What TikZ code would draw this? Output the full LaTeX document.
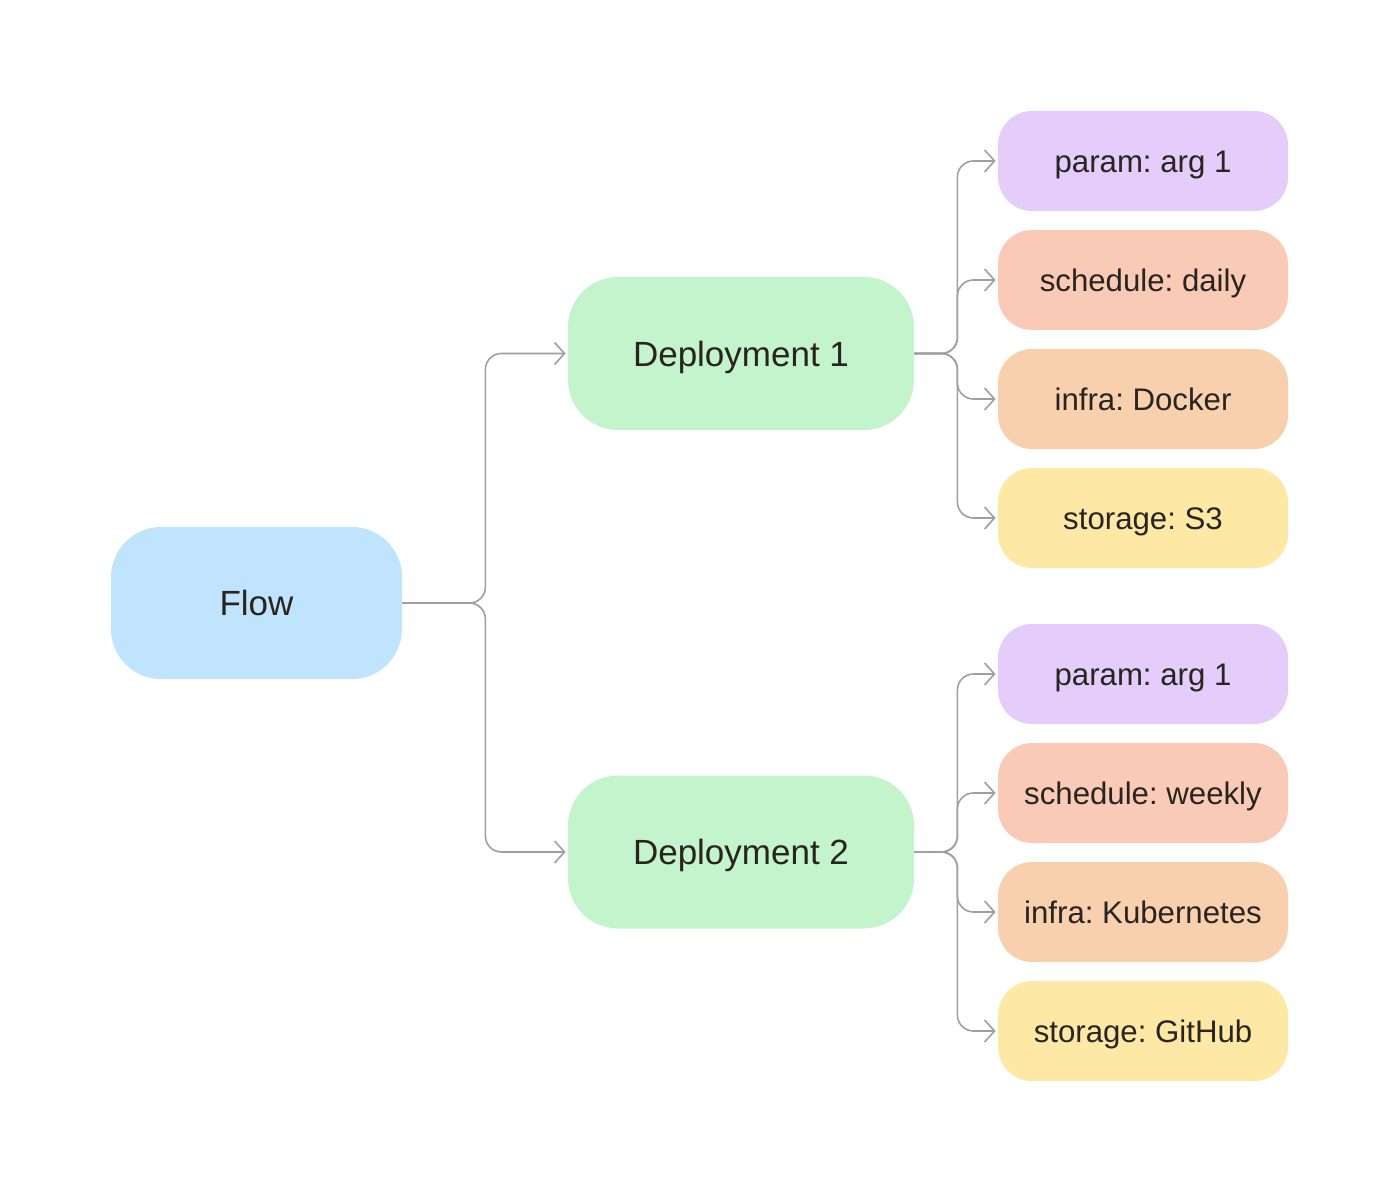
\documentclass[tikz,border=0pt]{standalone}
\usepackage{fontspec}
\setmainfont{Liberation Sans}
\usepackage{tikz}
\usetikzlibrary{arrows.meta,shapes}
\frenchspacing
\definecolor{flowblue}{HTML}{C0E4FD}
\definecolor{depgreen}{HTML}{C4F4CC}
\definecolor{parampurple}{HTML}{E4CDFB}
\definecolor{schedsalmon}{HTML}{F9CBB6}
\definecolor{infraorange}{HTML}{F9D0AE}
\definecolor{storeyellow}{HTML}{FDE8A6}
\definecolor{linkgray}{HTML}{A19E9E}
\definecolor{inkdark}{HTML}{2A2420}
\tikzstyle{box}=[rectangle,rounded corners=25pt,inner sep=0pt,text=inkdark,text height=12.5pt,text depth=0pt,font=\fontsize{17.5}{21}\selectfont]
\tikzstyle{mainbox}=[box,fill=flowblue,minimum width=145.5pt,minimum height=76pt]
\tikzstyle{depbox}=[box,fill=depgreen,minimum width=173pt,minimum height=76.5pt]
\tikzstyle{itembox}=[box,rounded corners=17pt,minimum width=145pt,minimum height=50pt,text height=11.2pt,font=\fontsize{15.6}{19}\selectfont]
\tikzstyle{link} = [draw,line width=0.8pt,linkgray,rounded corners=8pt,shorten >=1pt,-{Straight Barb[length=5pt,width=11pt]}]

\begin{document}
\begin{tikzpicture}[x=0.5pt,y=-0.5pt]
    \path[use as bounding box] (0,0) rectangle (1400,1192);
    % First we draw the flow and its deployments
    \node[mainbox] (Flow) at (256.5,603) {Flow};
    \node[depbox] (Dep_1) at (741,353.5) {Deployment 1};
    \node[depbox] (Dep_2) at (741,852) {Deployment 2};
    % Then the settings of each deployment
    \foreach \pos/\name/\colour/\label in {{(1143,161)/P_1/parampurple/param: arg 1}, {(1143,280)/S_1/schedsalmon/schedule: daily},
        {(1143,399)/I_1/infraorange/infra: Docker}, {(1143,518)/T_1/storeyellow/storage: S3},
        {(1143,674)/P_2/parampurple/param: arg 1}, {(1143,793)/S_2/schedsalmon/schedule: weekly},
        {(1143,912)/I_2/infraorange/infra: Kubernetes}, {(1143,1031)/T_2/storeyellow/storage: GitHub}}
        \node[itembox,fill=\colour] (\name) at \pos {\label};
    % Connect the flow with its deployments
    \foreach \dest in {Dep_1, Dep_2}
        \path[link] (Flow.east) -- ++(83,0) |- (\dest.west);
    % Connect each deployment with its settings
    \foreach \source/\dest in {Dep_1/P_1, Dep_1/S_1, Dep_1/I_1, Dep_1/T_1, Dep_2/P_2, Dep_2/S_2, Dep_2/I_2, Dep_2/T_2}
        \path[link] (\source.east) -- ++(43,0) |- (\dest.west);

\end{tikzpicture}
\end{document}
